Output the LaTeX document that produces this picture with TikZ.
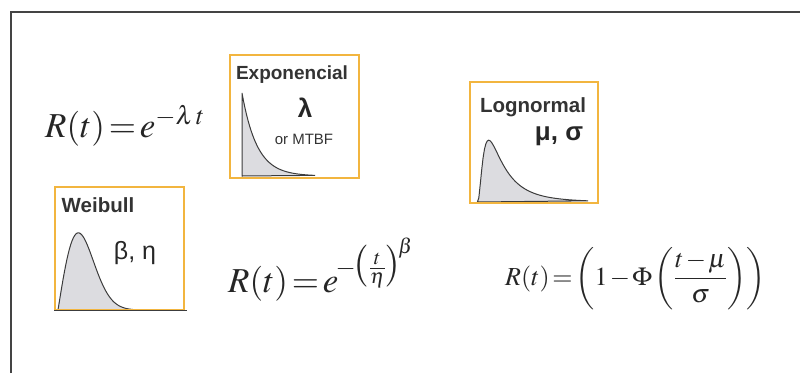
\documentclass[tikz,border=0pt]{standalone}
\usepackage{mathptmx}
\usepackage{fontspec}
\setmainfont{Liberation Sans}
\usepackage{tikz}
\usetikzlibrary{positioning}
\definecolor{frame}{HTML}{444444}
\definecolor{gold}{HTML}{F2B53F}
\definecolor{pdf}{HTML}{DCDCE0}
\definecolor{pdfline}{HTML}{3C3C3C}

\begin{document}
\begin{tikzpicture}[
  x=1pt, y=-1pt,
  distbox/.style={draw=gold,line width=1.4pt,minimum width=129pt,minimum height=123pt,inner sep=0pt},
  boxtitle/.style={font=\fontsize{20.5}{22}\selectfont\bfseries,text=black!80,inner sep=0pt},
  param/.style={font=\fontsize{25}{26}\selectfont,text=black!85,inner sep=0pt},
  formula/.style={anchor=base west,inner sep=0pt,text=black!85,
    execute at begin node={\thickmuskip=2mu\medmuskip=1.5mu}},
  curve/.style={draw=pdfline,fill=pdf,line width=1pt},
]
  \useasboundingbox (0,0) rectangle (800,373);
  \draw[frame,line width=1.5pt] (11,373) -- (11,12) -- (800,12);

  % Exponencial
  \filldraw[curve] (242,176) -- (242,93) -- plot[domain=0:73,samples=50] ({242+\x},{176-83*exp(-\x/15)}) -- cycle;
  \node[distbox] (expbox) at (294.5,116.5) {};
  \node[boxtitle,font=\fontsize{19}{20}\selectfont\bfseries] (exptitle) at (292,75) {Exponencial};
  \node[param,font=\fontsize{26}{26}\selectfont\bfseries] (explambda) at (305,108) {λ};
  \node[font=\fontsize{15}{16}\selectfont,text=black!80,inner sep=0pt] (expmtbf) at (304,139) {or MTBF};
  \node[formula,font=\fontsize{35}{40}\selectfont] (expform) at (45,137) {$R(t)=e^{-\lambda\,t}$};

  % Lognormal
  \filldraw[curve] (477,202) -- plot[domain=0.02:5,samples=80] ({477+22.2*\x},{202-90*exp(-ln(\x)*ln(\x)/1.28)/(\x*2.005)}) -- cycle;
  \node[distbox,minimum width=128pt,minimum height=121pt] (lognbox) at (534,142.5) {};
  \node[boxtitle] (logntitle) at (533,107) {Lognormal};
  \node[param,font=\fontsize{26}{26}\selectfont\bfseries] (lognparam) at (559,136) {μ, σ};
  \node[formula,font=\fontsize{26}{30}\selectfont] (lognform) at (505,285) {$\displaystyle R(t)=\left(1-\Phi\left(\frac{t-\mu}{\sigma}\right)\right)$};

  % Weibull
  \filldraw[curve] (58,310) -- plot[domain=0:2.6,samples=60] ({58+28.8*\x},{310-180*\x*exp(-\x*\x)}) -- cycle;
  \node[distbox] (weibox) at (119.5,248.5) {};
  \draw[pdfline,line width=1.2pt] (weibox.south west) -- ([xshift=2pt]weibox.south east);
  \node[boxtitle] (weititle) at (98,205) {Weibull};
  \node[param] (weiparam) at (135,253) {β, η};
  \node[formula,font=\fontsize{35}{40}\selectfont] (weiform) at (228,292) {$R(t)=e^{\mkern-2mu-\mkern-2mu\bigl(\frac{t}{\eta}\bigr)^{\mkern-3mu\beta}}$};
\end{tikzpicture}
\end{document}
